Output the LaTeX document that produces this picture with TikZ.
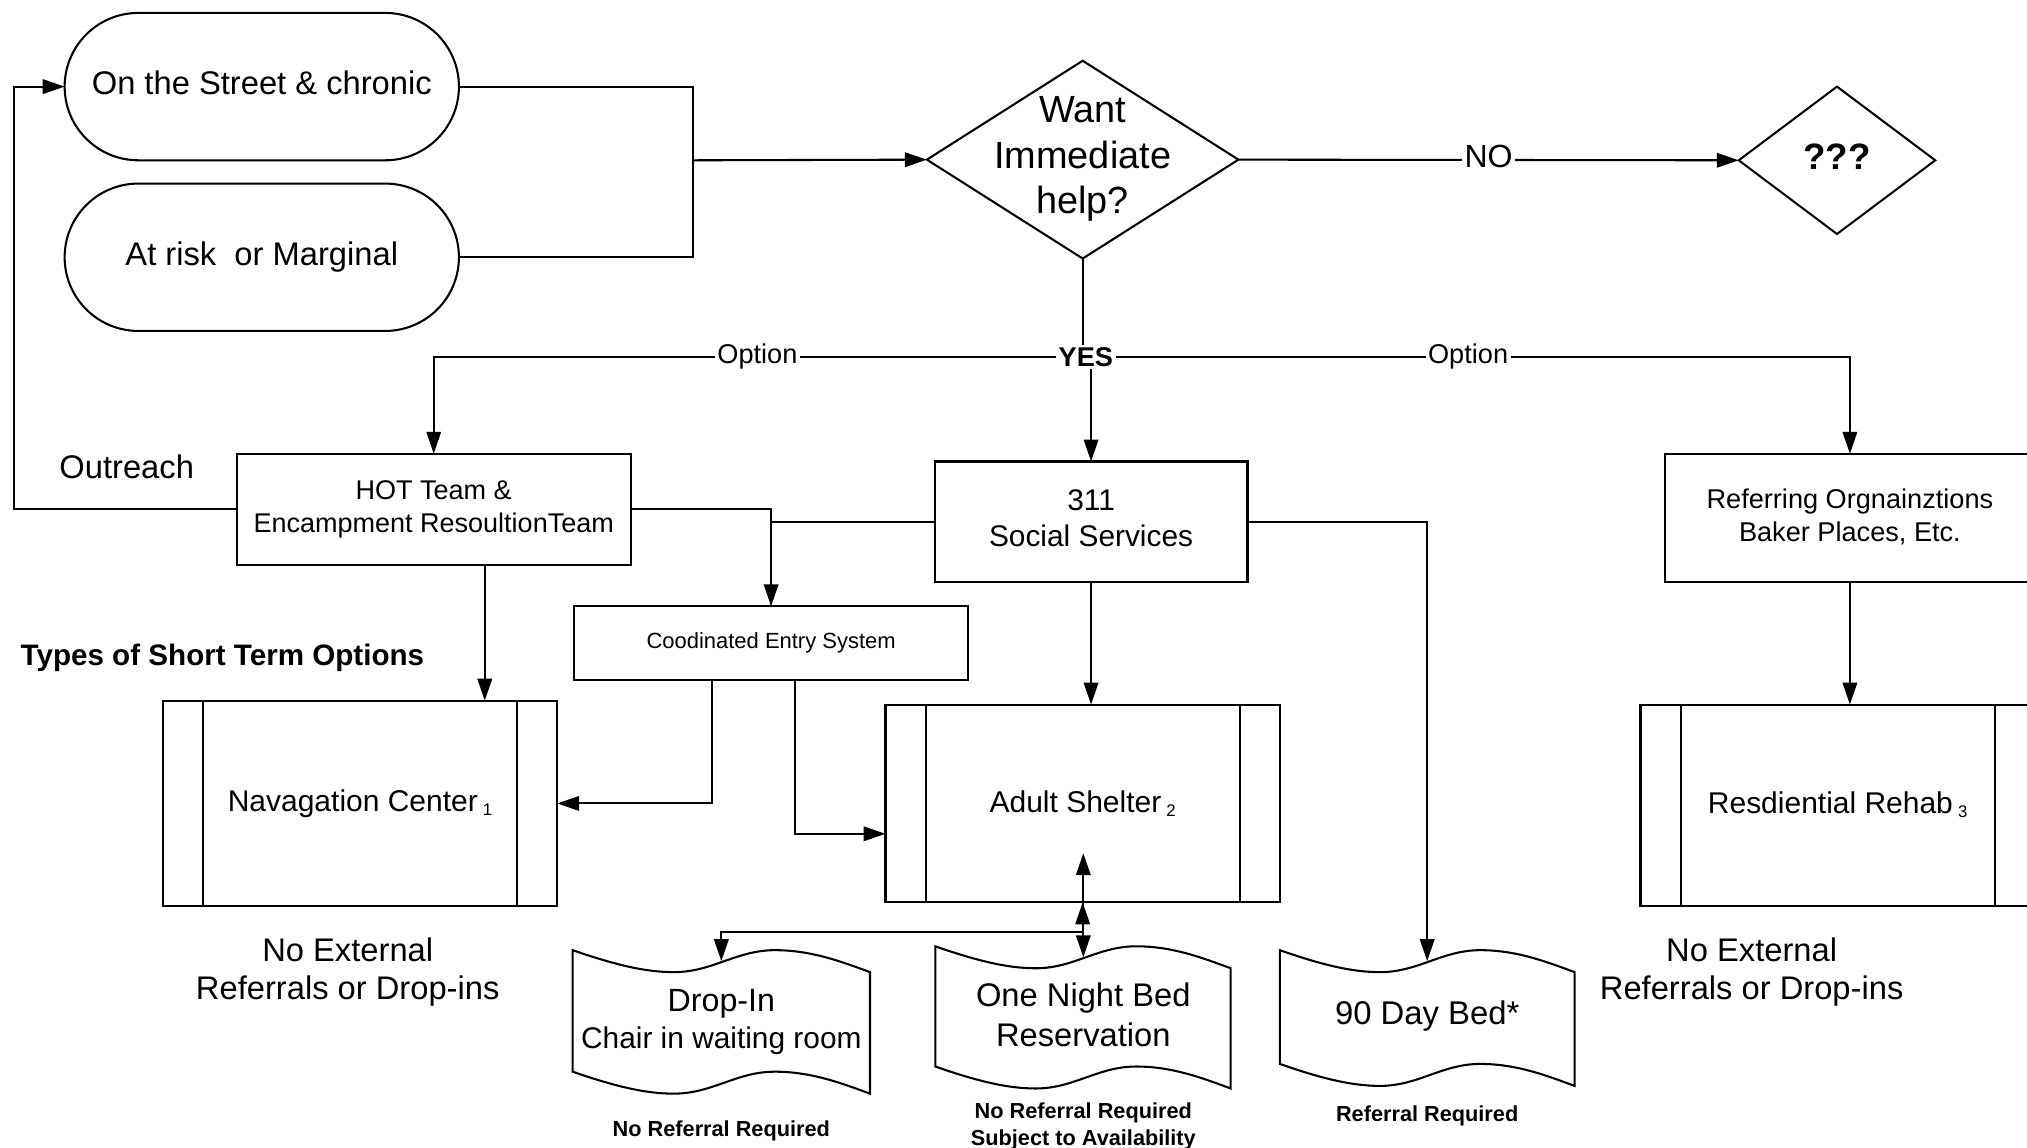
\documentclass[tikz,border=0pt]{standalone}
\usepackage{fontspec}
\setmainfont{Liberation Sans}
\usetikzlibrary{shapes.geometric,arrows.meta,calc}
\newcommand\smallidx[1]{\,\raisebox{-0.25ex}{\fontsize{6.5pt}{7pt}\selectfont #1}}
\newcommand\tapeshape[4]{%
 \begin{scope}[shift={(#1,#2)}, x={(#3*0.5pt,0pt)}]
  \draw[line width=0.8pt] (0,0) .. controls (0.15,12) and (0.25,17) .. (0.34,17)
    .. controls (0.47,17) and (0.55,0) .. (0.68,0)
    .. controls (0.8,0) and (0.9,8.5) .. (1,17) -- (1,#4+17)
    .. controls (0.9,#4+8.5) and (0.8,#4) .. (0.68,#4)
    .. controls (0.55,#4) and (0.47,#4+17) .. (0.34,#4+17)
    .. controls (0.25,#4+17) and (0.15,#4+12) .. (0,#4) -- cycle;
 \end{scope}}
\begin{document}
\begin{tikzpicture}[x=0.5pt,y=-0.5pt,
  every node/.style={inner sep=0pt, outer sep=0pt},
  ln/.style={line width=0.8pt, draw=black},
  arr/.style={ln, -{Triangle[length=8.5pt,width=5.6pt]}},
  arrb/.style={ln, {Triangle[length=8.5pt,width=5.6pt]}-{Triangle[length=8.5pt,width=5.6pt]}},
  stad/.style={draw, line width=0.8pt, rounded corners=28.5pt, minimum width=152.5pt, minimum height=57pt, text depth=3pt, font=\fontsize{12.65pt}{15pt}\selectfont},
  box/.style={draw, line width=0.8pt, align=center},
  proc/.style={draw, line width=0.8pt, minimum width=152.5pt, font=\fontsize{11.6pt}{14pt}\selectfont},
  dia/.style={draw, diamond, line width=0.8pt},
  lbl/.style={fill=white, inner sep=1pt},
  optf/.style={font=\fontsize{10.5pt}{12pt}\selectfont},
  bsmall/.style={font={\fontsize{8.4pt}{10.5pt}\selectfont\bfseries}, align=center},
  bigtxt/.style={font=\fontsize{12.65pt}{15pt}\selectfont, align=center},
]
\fill[white] (0,0) rectangle (1568,888);
\useasboundingbox (0,0) rectangle (1568,888);

% top
\node[stad] (st1) at (202.5,67) {On the Street \& chronic};
\node[stad] (st2) at (202.5,199) {At risk\ \ or Marginal};
\node[dia, minimum width=120.5pt, minimum height=76.5pt] (want) at (837.5,123.5) {};
\node[align=center, font=\fontsize{14.65pt}{17.75pt}\selectfont] (wantt) at (837.5,123) {Want\\Immediate\\help?};
\node[dia, minimum width=76pt, minimum height=57pt] (q) at (1421,124) {};
\node[font={\fontsize{14.2pt}{17pt}\selectfont\bfseries}] (qt) at (1421,121) {???};
\node[lbl, font={\fontsize{10.5pt}{12pt}\selectfont\bfseries}] (yes) at (840,276) {YES};

% middle boxes
\node[box, minimum width=152.5pt, minimum height=43pt, font=\fontsize{10.45pt}{12.5pt}\selectfont] (hot) at (335.5,394) {HOT Team \&\\Encampment ResoultionTeam};
\node[box, minimum width=121pt, minimum height=46.5pt, text depth=3pt, font=\fontsize{11.55pt}{14pt}\selectfont] (s311) at (844,403.5) {311\\Social Services};
\node[box, minimum width=143pt, minimum height=49.5pt, text depth=2pt, font=\fontsize{10.5pt}{12.5pt}\selectfont] (ref) at (1431,400.5) {Referring Orgnainztions\\Baker Places, Etc.};
\node[box, minimum width=152.5pt, minimum height=28.5pt, font=\fontsize{8.5pt}{10pt}\selectfont] (coord) at (596.5,497.5) {Coodinated Entry System};
\node[font=\fontsize{12.65pt}{15pt}\selectfont] (outr) at (98,361) {Outreach};
\node[anchor=west, font={\fontsize{11.45pt}{14pt}\selectfont\bfseries}] (types) at (16,509) {Types of Short Term Options};

% process boxes
\node[proc, minimum height=79.5pt] (nav) at (278.5,621.5) {Navagation Center\smallidx{1}};
\node[proc, minimum height=76.5pt] (adult) at (837.5,621.5) {Adult Shelter\smallidx{2}};
\node[proc, minimum height=78pt, text depth=2pt] (rehab) at (1421.5,623) {Resdiential Rehab\smallidx{3}};
\foreach \n in {nav,adult,rehab}{
  \draw[ln] ($(\n.north west)+(31,0)$) -- ($(\n.south west)+(31,0)$);
  \draw[ln] ($(\n.north east)+(-31,0)$) -- ($(\n.south east)+(-31,0)$);
}
\node[bigtxt] (ne1) at (269,752) {No External\\Referrals or Drop-ins};
\node[bigtxt] (ne2) at (1355,752) {No External\\Referrals or Drop-ins};

% tapes
\tapeshape{443}{735}{230}{94}
\tapeshape{723.5}{732}{228.5}{93}
\tapeshape{990}{735}{228}{88}
\coordinate (droptop) at (558,743.5);
\coordinate (ontop) at (838,740.5);
\coordinate (d90top) at (1104,743.5);
\node[align=center, font=\fontsize{11.55pt}{14.5pt}\selectfont] (dropin) at (558,790.5) {{\fontsize{12.45pt}{14.5pt}\selectfont Drop-In}\\Chair in waiting room};
\node[align=center, font=\fontsize{12.65pt}{15.5pt}\selectfont] (onenight) at (838,785) {One Night Bed\\Reservation};
\node[font=\fontsize{12.7pt}{15pt}\selectfont] (day90) at (1104,786) {90 Day Bed*};
\node[bsmall] (nr1) at (558,875) {No Referral Required};
\node[bsmall] (nr2) at (838,871.5) {No Referral Required\\Subject to Availability};
\node[bsmall] (rr) at (1104,863) {Referral Required};

% connectors
\coordinate (jn) at (536,124);
\draw[ln] (st1.east) -| (jn);
\draw[ln] (st2.east) -| (jn);
\draw[arr] (jn) -- (want.west);
\draw[arr] (want.east) -- node[lbl, font=\fontsize{12.4pt}{14pt}\selectfont, yshift=1.2pt] (nolbl) {NO} (q.west);
\draw[ln] (want.south) -- (want.south |- yes.north);
\draw[arr] (yes.west) -| node[lbl, optf, pos=0.24] (opt1) {Option} (hot.north);
\draw[arr] (yes.east) -| node[lbl, optf, pos=0.24] (opt2) {Option} (ref.north);
\draw[arr] (yes.south -| s311.north) -- (s311.north);

\coordinate (oc) at (11,394);
\draw[arr] (hot.west) -- (oc) |- (st1.west);
\draw[arr] (hot.east) -| (coord.north);
\draw[ln] (s311.west) -| (coord.north);
\draw[arr] (s311.east) -| (d90top);
\draw[arr] (s311.south) -- (s311.south |- adult.north);
\draw[arr] (ref.south) -- (ref.south |- rehab.north);
\coordinate (h1) at ($(hot.south)+(39.5,0)$);
\draw[arr] (h1) -- (h1 |- nav.north);
\coordinate (c1) at ($(coord.south)+(-45.5,0)$);
\draw[arr] (c1) |- (nav.east);
\coordinate (c2) at ($(coord.south)+(18.5,0)$);
\coordinate (a1) at ($(adult.west)+(0,23.5)$);
\draw[arr] (c2) |- (a1);
\coordinate (a2) at ($(adult.center)+(0.5,38.5)$);
\draw[arrb] (ontop) -- (ontop |- a2);
\draw[arrb] (adult.south) -- ++(0,23) -| (droptop);
\end{tikzpicture}
\end{document}
